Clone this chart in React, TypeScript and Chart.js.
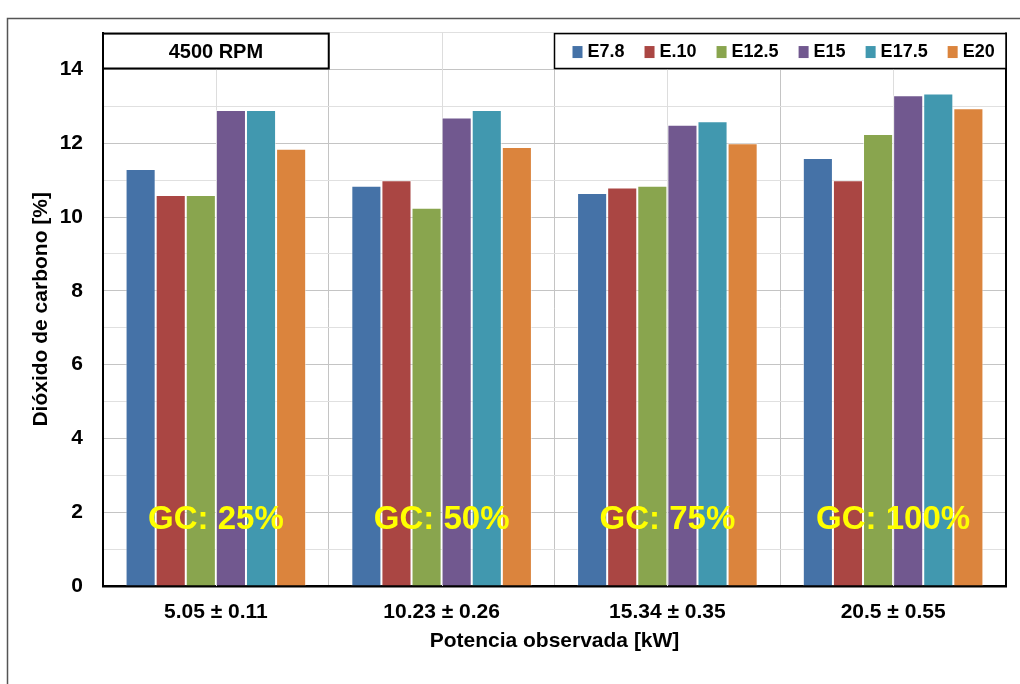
import { useEffect, useRef } from 'react';
import { Chart, registerables } from 'chart.js';

Chart.register(...registerables);

const categories = ['5.05 ± 0.11', '10.23 ± 0.26', '15.34 ± 0.35', '20.5 ± 0.55'];
const seriesNames = ['E7.8', 'E.10', 'E12.5', 'E15', 'E17.5', 'E20'];
const e78 = [11.3, 10.85, 10.65, 11.6];
const e10 = [10.6, 11.0, 10.8, 11.0];
const e125 = [10.6, 10.25, 10.85, 12.25];
const e15 = [12.9, 12.7, 12.5, 13.3];
const e175 = [12.9, 12.9, 12.6, 13.35];
const e20 = [11.85, 11.9, 12.0, 12.95];
const gcLabels = ['GC: 25%', 'GC: 50%', 'GC: 75%', 'GC: 100%'];
const yTickLabels = [0, 2, 4, 6, 8, 10, 12, 14];
const chartTitle = '4500 RPM';
const xTitle = 'Potencia observada [kW]';
const yTitle = 'Dióxido de carbono [%]';
const colors = ['#4572A7', '#AA4643', '#89A54E', '#71588F', '#4198AF', '#DB843D'];

const FONT = '"Liberation Sans", Arial, sans-serif';

const overlayPlugin = {
  id: 'overlay',
  beforeDatasetsDraw(chart: any) {
    const { ctx, chartArea } = chart;
    const xs = chart.scales.x;
    ctx.save();
    ctx.strokeStyle = '#dddddd';
    ctx.lineWidth = 1;
    categories.forEach((_, i) => {
      const x = Math.round(xs.getPixelForValue(i)) + 0.5;
      ctx.beginPath();
      ctx.moveTo(x, chartArea.top);
      ctx.lineTo(x, chartArea.bottom);
      ctx.stroke();
    });
    ctx.restore();
  },
  afterDatasetsDraw(chart: any) {
    const { ctx, chartArea } = chart;
    const xs = chart.scales.x;
    const ys = chart.scales.y;
    ctx.save();
    // GC labels
    ctx.fillStyle = '#FFFF00';
    ctx.font = `bold 33px ${FONT}`;
    ctx.textAlign = 'center';
    ctx.textBaseline = 'middle';
    gcLabels.forEach((t, i) => {
      ctx.fillText(t, xs.getPixelForValue(i), ys.getPixelForValue(1.8));
    });
    // right border
    ctx.strokeStyle = '#000';
    ctx.lineWidth = 2;
    ctx.beginPath();
    ctx.moveTo(chartArea.right, chartArea.top);
    ctx.lineTo(chartArea.right, chartArea.bottom);
    ctx.stroke();
    // title box
    const top = chartArea.top + 1;
    const boxH = ys.getPixelForValue(14) - top - 1;
    const tbL = chartArea.left;
    const tbR = xs.getPixelForValue(0.5);
    ctx.fillStyle = '#fff';
    ctx.fillRect(tbL, top, tbR - tbL, boxH);
    ctx.lineWidth = 2;
    ctx.strokeStyle = '#000';
    ctx.strokeRect(tbL, top, tbR - tbL, boxH);
    ctx.fillStyle = '#000';
    ctx.font = `bold 20px ${FONT}`;
    ctx.textAlign = 'center';
    ctx.textBaseline = 'middle';
    ctx.fillText(chartTitle, (tbL + tbR) / 2, top + boxH / 2 + 1);
    // legend box
    const lbL = xs.getPixelForValue(1.5);
    const lbR = chartArea.right;
    ctx.fillStyle = '#fff';
    ctx.fillRect(lbL, top, lbR - lbL, boxH);
    ctx.lineWidth = 1.5;
    ctx.strokeRect(lbL, top, lbR - lbL, boxH);
    ctx.font = `bold 18px ${FONT}`;
    ctx.textAlign = 'left';
    let x = lbL + 18;
    const cy = top + boxH / 2 + 1;
    chart.data.datasets.forEach((ds: any) => {
      ctx.fillStyle = ds.backgroundColor;
      ctx.fillRect(x, cy - 6, 10, 12);
      x += 15;
      ctx.fillStyle = '#000';
      ctx.fillText(ds.label, x, cy);
      x += ctx.measureText(ds.label).width + 20;
    });
    // outer frame
    ctx.strokeStyle = '#555';
    ctx.lineWidth = 1.5;
    ctx.beginPath();
    ctx.moveTo(7.5, chart.height);
    ctx.lineTo(7.5, 18.5);
    ctx.lineTo(chart.width, 18.5);
    ctx.stroke();
    ctx.restore();
  },
};

export default function App() {
  const ref = useRef<HTMLCanvasElement>(null);
  useEffect(() => {
    if (!ref.current) return;
    const series = [e78, e10, e125, e15, e175, e20];
    const chart = new Chart(ref.current, {
      type: 'bar',
      data: {
        labels: categories,
        datasets: series.map((d, i) => ({
          label: seriesNames[i],
          data: d,
          backgroundColor: colors[i],
          borderColor: 'rgba(255,255,255,0.55)',
          borderWidth: 1,
          barPercentage: 1,
          categoryPercentage: 0.8,
        })),
      },
      options: {
        responsive: false,
        animation: false,
        layout: { padding: { left: 0, right: 14, top: 31, bottom: 0 } },
        plugins: { legend: { display: false }, title: { display: false }, tooltip: { enabled: false } },
        scales: {
          x: {
            grid: { color: '#c4c4c4', drawTicks: false, offset: true },
            border: { color: '#000', width: 2.5 },
            ticks: { color: '#000', font: { family: FONT, size: 21, weight: 'bold' }, padding: 14 },
            title: { display: true, text: xTitle, color: '#000', font: { family: FONT, size: 21, weight: 'bold' }, padding: { top: 0, bottom: 30 } },
            afterFit: (s: any) => { s.height = 98; },
          },
          y: {
            min: 0,
            max: 15,
            grid: {
              color: (c: any) => (c.tick && c.tick.value % 2 === 0 ? '#c4c4c4' : '#e0e0e0'),
              drawTicks: false,
            },
            border: { color: '#000', width: 2 },
            ticks: {
              stepSize: 1,
              autoSkip: false,
              color: '#000',
              padding: 20,
              font: { family: FONT, size: 21, weight: 'bold' },
              callback: (v: any) => (yTickLabels.includes(Number(v)) ? String(v) : ''),
            },
            title: { display: true, text: yTitle, color: '#000', font: { family: FONT, size: 21, weight: 'bold' }, padding: { top: 29, bottom: 0 } },
            afterFit: (s: any) => { s.width = 103; },
          },
        },
      },
      plugins: [overlayPlugin],
    } as any);
    return () => chart.destroy();
  }, []);
  return (
    <div style={{ position: 'absolute', left: 0, top: 0, width: 1020, height: 684, background: '#fff' }}>
      <canvas ref={ref} width={1020} height={684} style={{ display: 'block' }} />
    </div>
  );
}
